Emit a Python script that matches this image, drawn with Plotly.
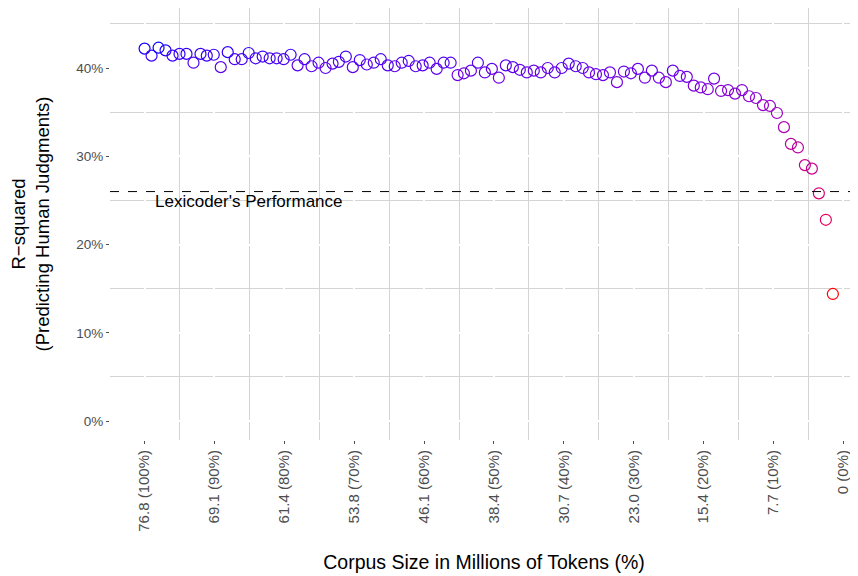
import plotly.graph_objects as go

# ---- data ----
corpus_pct = [100.0, 99.0, 98.0, 97.0, 96.0, 95.0, 94.0, 93.0, 92.0, 91.1,
              90.1, 89.1, 88.1, 87.1, 86.1, 85.1, 84.1, 83.1, 82.1, 81.1,
              80.1, 79.1, 78.1, 77.1, 76.1, 75.1, 74.1, 73.1, 72.2, 71.2,
              70.2, 69.2, 68.2, 67.2, 66.2, 65.2, 64.2, 63.2, 62.2, 61.2,
              60.2, 59.2, 58.2, 57.2, 56.2, 55.2, 54.3, 53.3, 52.3, 51.3,
              50.3, 49.3, 48.3, 47.3, 46.3, 45.3, 44.3, 43.3, 42.3, 41.3,
              40.3, 39.3, 38.3, 37.3, 36.4, 35.4, 34.4, 33.4, 32.4, 31.4,
              30.4, 29.4, 28.4, 27.4, 26.4, 25.4, 24.4, 23.4, 22.4, 21.4,
              20.4, 19.4, 18.5, 17.5, 16.5, 15.5, 14.5, 13.5, 12.5, 11.5,
              10.5, 9.5, 8.5, 7.5, 6.5, 5.5, 4.5, 3.5, 2.5, 1.5]

r_squared = [42.2, 41.4, 42.3, 42.0, 41.4, 41.6, 41.6, 40.6, 41.6, 41.4,
             41.5, 40.1, 41.8, 41.0, 41.0, 41.7, 41.1, 41.3, 41.1, 41.1,
             41.0, 41.5, 40.3, 41.0, 40.2, 40.6, 40.0, 40.5, 40.7, 41.3,
             40.1, 40.9, 40.4, 40.6, 41.0, 40.3, 40.2, 40.6, 40.8, 40.2,
             40.3, 40.6, 39.9, 40.6, 40.6, 39.2, 39.4, 39.7, 40.6, 39.5,
             39.9, 38.9, 40.3, 40.1, 39.8, 39.5, 39.7, 39.5, 40.0, 39.5,
             40.0, 40.5, 40.2, 40.0, 39.5, 39.3, 39.2, 39.5, 38.4, 39.6,
             39.4, 39.9, 38.9, 39.7, 38.9, 38.4, 39.7, 39.1, 39.0, 38.0,
             37.8, 37.6, 38.8, 37.4, 37.5, 37.1, 37.5, 36.8, 36.6, 35.8,
             35.7, 34.9, 33.3, 31.4, 31.0, 29.0, 28.6, 25.8, 22.8, 14.4]

x_tick_vals = [100, 90, 80, 70, 60, 50, 40, 30, 20, 10, 0]
x_tick_text = ["76.8 (100%)", "69.1 (90%)", "61.4 (80%)", "53.8 (70%)",
               "46.1 (60%)", "38.4 (50%)", "30.7 (40%)", "23.0 (30%)",
               "15.4 (20%)", "7.7 (10%)", "0 (0%)"]
y_tick_vals = [0, 10, 20, 30, 40]
y_tick_text = ["0%", "10%", "20%", "30%", "40%"]
lexicoder_r2 = 26.0
lexicoder_label = "Lexicoder's Performance"


# ---- colour gradient (red -> blue, interpolated in CIELAB) ----
def _srgb_to_lin(c):
    return c / 12.92 if c <= 0.04045 else ((c + 0.055) / 1.055) ** 2.4


def _lin_to_srgb(c):
    c = max(0.0, min(1.0, c))
    return 12.92 * c if c <= 0.0031308 else 1.055 * c ** (1 / 2.4) - 0.055


WHITE = (0.95047, 1.0, 1.08883)


def hex_to_lab(h):
    r, g, b = (int(h[i:i + 2], 16) / 255 for i in (1, 3, 5))
    r, g, b = _srgb_to_lin(r), _srgb_to_lin(g), _srgb_to_lin(b)
    X = 0.4124 * r + 0.3576 * g + 0.1805 * b
    Y = 0.2126 * r + 0.7152 * g + 0.0722 * b
    Z = 0.0193 * r + 0.1192 * g + 0.9505 * b

    def f(t):
        return t ** (1 / 3) if t > 0.008856 else 7.787 * t + 16 / 116
    fx, fy, fz = f(X / WHITE[0]), f(Y / WHITE[1]), f(Z / WHITE[2])
    return (116 * fy - 16, 500 * (fx - fy), 200 * (fy - fz))


def lab_to_rgb(L, a, b):
    fy = (L + 16) / 116
    fx = fy + a / 500
    fz = fy - b / 200

    def finv(t):
        return t ** 3 if t ** 3 > 0.008856 else (t - 16 / 116) / 7.787
    X, Y, Z = finv(fx) * WHITE[0], finv(fy) * WHITE[1], finv(fz) * WHITE[2]
    r = 3.2406 * X - 1.5372 * Y - 0.4986 * Z
    g = -0.9689 * X + 1.8758 * Y + 0.0415 * Z
    bb = 0.0557 * X - 0.2040 * Y + 1.0570 * Z
    return "rgb(%d,%d,%d)" % tuple(round(255 * _lin_to_srgb(v)) for v in (r, g, bb))


low_lab = hex_to_lab("#FF0000")
high_lab = hex_to_lab("#0000FF")
vmin, vmax = min(r_squared), max(r_squared)
colors = []
for v in r_squared:
    t = (v - vmin) / (vmax - vmin)
    colors.append(lab_to_rgb(*[lo + t * (hi - lo) for lo, hi in zip(low_lab, high_lab)]))

FONT = "Liberation Sans, Arial, sans-serif"
GRID = "#d4d4d4"

fig = go.Figure()
fig.add_trace(go.Scatter(
    x=corpus_pct, y=r_squared, mode="markers",
    marker=dict(symbol="circle-open", size=11, color=colors,
                line=dict(width=1.2, color=colors)),
    showlegend=False, hoverinfo="x+y",
))

fig.add_hline(y=lexicoder_r2, line=dict(color="black", width=1, dash="dash"))
fig.add_annotation(x=85, y=24.9, text=lexicoder_label, showarrow=False,
                   font=dict(family=FONT, size=17, color="black"),
                   xanchor="center", yanchor="middle")

# the page body adds an 8px margin, so the figure is 8px smaller than the window
fig.update_layout(
    width=850, height=568,
    margin=dict(l=102, r=0, t=0, b=136),
    plot_bgcolor="white", paper_bgcolor="white",
    font=dict(family=FONT),
    xaxis=dict(
        range=[104.95, -2.1], tickmode="array", tickvals=x_tick_vals,
        ticktext=x_tick_text, tickangle=-90,
        tickfont=dict(family=FONT, size=15, color="#4d4d4d"),
        ticks="outside", ticklen=3, tickcolor="#4d4d4d", tickwidth=1,
        showgrid=True, gridcolor="white", gridwidth=1.6,
        minor=dict(tickmode="array", tickvals=[105, 95, 85, 75, 65, 55, 45, 35, 25, 15, 5],
                   showgrid=True, gridcolor=GRID, gridwidth=1, ticks=""),
        zeroline=False, showline=False,
        title=dict(text="Corpus Size in Millions of Tokens (%)",
                   font=dict(family=FONT, size=19.5, color="black"), standoff=24),
        automargin=False,
    ),
    yaxis=dict(
        range=[-2.15, 46.8], tickmode="array", tickvals=y_tick_vals,
        ticktext=y_tick_text,
        tickfont=dict(family=FONT, size=13.5, color="#4d4d4d"),
        ticks="outside", ticklen=3, tickcolor="#4d4d4d", tickwidth=1,
        showgrid=True, gridcolor="white", gridwidth=1.6,
        minor=dict(tickmode="array", tickvals=[5, 15, 25, 35, 45],
                   showgrid=True, gridcolor=GRID, gridwidth=1, ticks=""),
        zeroline=False, showline=False,
        title=dict(text="R\u2212squared<br>(Predicting Human Judgments)",
                   font=dict(family=FONT, size=18.5, color="black"), standoff=26),
        automargin=False,
    ),
)

fig.write_html("out.html")
